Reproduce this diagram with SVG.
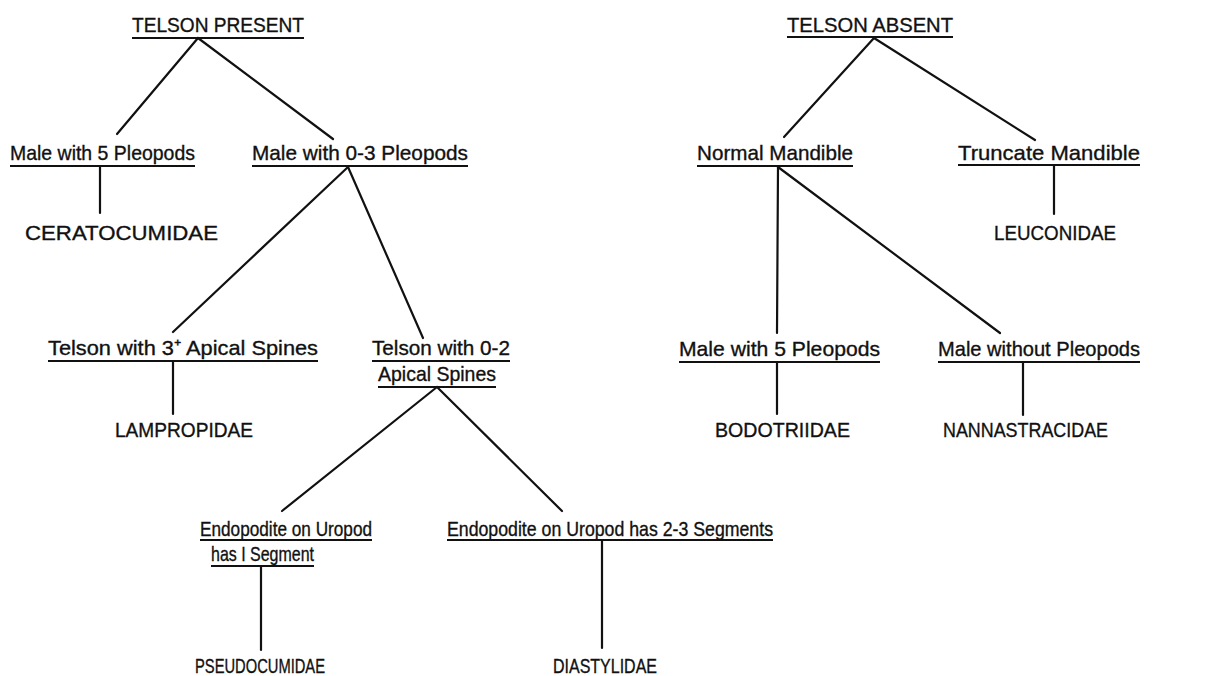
<svg xmlns="http://www.w3.org/2000/svg" width="1225" height="676" viewBox="0 0 1225 676">
<style>
text{font-family:"Liberation Sans",Arial,sans-serif;font-size:21px;fill:#111;stroke:#111;stroke-width:0.35;}
.u{stroke:#111;stroke-width:2.2;}
#connectors line{stroke:#111;stroke-width:2.2;stroke-linecap:round;}
</style>
<rect width="1225" height="676" fill="#fff"/>
<g id="connectors">
<line x1="198" y1="38" x2="117" y2="134"/>
<line x1="198" y1="38" x2="333" y2="139"/>
<line x1="100" y1="167" x2="100" y2="213"/>
<line x1="348" y1="167" x2="173" y2="332"/>
<line x1="348" y1="167" x2="423" y2="338"/>
<line x1="173" y1="362" x2="173" y2="414"/>
<line x1="437" y1="387" x2="282" y2="511"/>
<line x1="437" y1="387" x2="562" y2="511"/>
<line x1="261" y1="566" x2="261" y2="650"/>
<line x1="602" y1="540" x2="602" y2="648"/>
<line x1="874" y1="38" x2="784" y2="137"/>
<line x1="874" y1="38" x2="1035" y2="140"/>
<line x1="1054" y1="166" x2="1054" y2="214"/>
<line x1="778" y1="167" x2="777" y2="333"/>
<line x1="778" y1="167" x2="1000" y2="333"/>
<line x1="777" y1="363" x2="777" y2="414"/>
<line x1="1023" y1="363" x2="1023" y2="415"/>
</g>
<g id="telson-present"><text x="132" y="32" textLength="172" lengthAdjust="spacingAndGlyphs">TELSON PRESENT</text><line class="u" x1="132" y1="38" x2="304" y2="38"/></g>
<g id="male5-left"><text x="10" y="160" textLength="185" lengthAdjust="spacingAndGlyphs">Male with 5 Pleopods</text><line class="u" x1="10" y1="166" x2="195" y2="166"/></g>
<g id="male03"><text x="252" y="160" textLength="216" lengthAdjust="spacingAndGlyphs">Male with 0-3 Pleopods</text><line class="u" x1="252" y1="166" x2="468" y2="166"/></g>
<g id="ceratocumidae"><text x="25" y="240" textLength="193" lengthAdjust="spacingAndGlyphs">CERATOCUMIDAE</text></g>
<g id="telson3"><text x="48" y="355" textLength="270" lengthAdjust="spacingAndGlyphs">Telson with 3⁺ Apical  Spines</text><line class="u" x1="48" y1="361" x2="318" y2="361"/></g>
<g id="telson02"><text x="372" y="355" textLength="138" lengthAdjust="spacingAndGlyphs">Telson with 0-2</text><line class="u" x1="372" y1="361" x2="510" y2="361"/><text x="378" y="381" textLength="118" lengthAdjust="spacingAndGlyphs">Apical Spines</text><line class="u" x1="378" y1="387" x2="496" y2="387"/></g>
<g id="lampropidae"><text x="115" y="437" textLength="138" lengthAdjust="spacingAndGlyphs">LAMPROPIDAE</text></g>
<g id="endo1"><text x="200" y="536" textLength="172" lengthAdjust="spacingAndGlyphs">Endopodite on Uropod</text><line class="u" x1="200" y1="540" x2="372" y2="540"/><text x="211" y="561" textLength="103" lengthAdjust="spacingAndGlyphs">has I Segment</text><line class="u" x1="211" y1="566" x2="314" y2="566"/></g>
<g id="endo23"><text x="447" y="536" textLength="326" lengthAdjust="spacingAndGlyphs">Endopodite  on Uropod has 2-3 Segments</text><line class="u" x1="447" y1="540" x2="773" y2="540"/></g>
<g id="pseudocumidae"><text x="195" y="673" textLength="130" lengthAdjust="spacingAndGlyphs">PSEUDOCUMIDAE</text></g>
<g id="diastylidae"><text x="553" y="673" textLength="104" lengthAdjust="spacingAndGlyphs">DIASTYLIDAE</text></g>
<g id="telson-absent"><text x="787" y="32" textLength="166" lengthAdjust="spacingAndGlyphs">TELSON ABSENT</text><line class="u" x1="787" y1="37" x2="953" y2="37"/></g>
<g id="normal-mandible"><text x="697" y="160" textLength="156" lengthAdjust="spacingAndGlyphs">Normal Mandible</text><line class="u" x1="697" y1="166" x2="853" y2="166"/></g>
<g id="truncate-mandible"><text x="958" y="160" textLength="182" lengthAdjust="spacingAndGlyphs">Truncate Mandible</text><line class="u" x1="958" y1="165" x2="1140" y2="165"/></g>
<g id="leuconidae"><text x="994" y="240" textLength="122" lengthAdjust="spacingAndGlyphs">LEUCONIDAE</text></g>
<g id="male5-right"><text x="679" y="356" textLength="201" lengthAdjust="spacingAndGlyphs">Male with 5 Pleopods</text><line class="u" x1="679" y1="362" x2="880" y2="362"/></g>
<g id="male-without"><text x="938" y="356" textLength="202" lengthAdjust="spacingAndGlyphs">Male without Pleopods</text><line class="u" x1="938" y1="362" x2="1140" y2="362"/></g>
<g id="bodotriidae"><text x="715" y="437" textLength="135" lengthAdjust="spacingAndGlyphs">BODOTRIIDAE</text></g>
<g id="nannastracidae"><text x="943" y="437" textLength="165" lengthAdjust="spacingAndGlyphs">NANNASTRACIDAE</text></g>
</svg>
